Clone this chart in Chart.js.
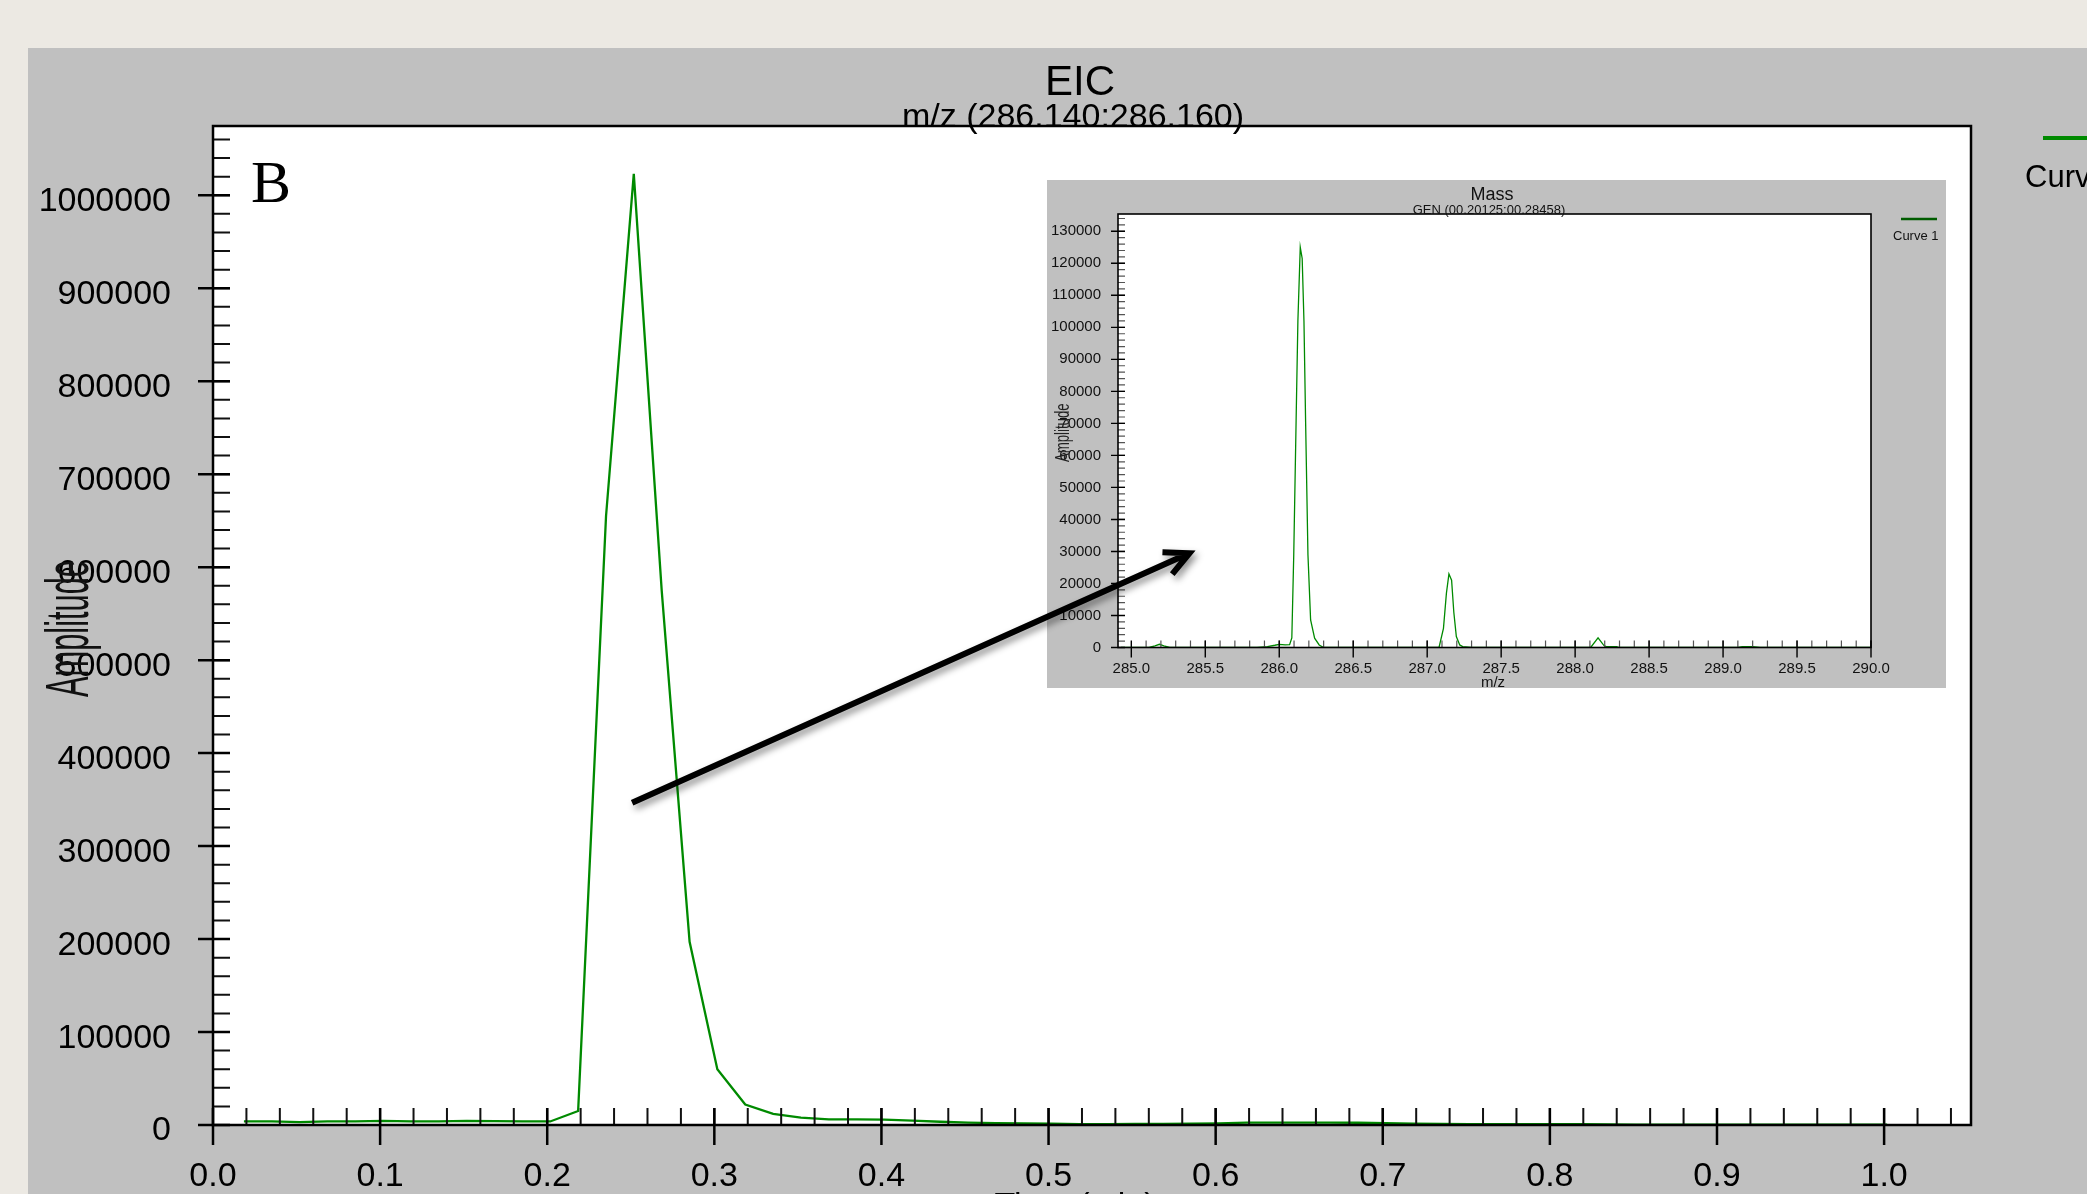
<!DOCTYPE html>
<html>
<head>
<meta charset="utf-8">
<title>EIC m/z (286.140:286.160)</title>
<script src="https://cdn.jsdelivr.net/npm/chart.js@4.4.1/dist/chart.umd.min.js"></script>
<style>
    html, body { margin: 0; padding: 0; width: 2087px; height: 1194px; overflow: hidden; background: #ece9e3; }
    #panel { position: absolute; left: 28px; top: 48px; right: 0; bottom: 0; background: #c0c0c0; }
    #eicChart, #arrowLayer { position: absolute; left: 28px; top: 48px; }
    #eicChart { z-index: 1; }
    #massChart { position: absolute; left: 1047px; top: 180px; z-index: 2; background: #c0c0c0; }
    #arrowLayer { z-index: 3; pointer-events: none; }
</style>
</head>
<body>
<div id="panel"></div>
<canvas id="eicChart" width="2059" height="1177"></canvas>
<canvas id="massChart" width="899" height="508"></canvas>
<canvas id="arrowLayer" width="2059" height="1177"></canvas>
<script>
// EIC trace (time in min, amplitude)
var eicTimes = [0.0185, 0.0352, 0.0518, 0.0685, 0.0852, 0.1018, 0.1185, 0.1352, 0.1518, 0.1685,
                0.1852, 0.2018, 0.2185, 0.2352, 0.2518, 0.2685, 0.2852, 0.3018, 0.3185, 0.3352,
                0.3518, 0.3685, 0.3852, 0.4018, 0.4185, 0.4352, 0.4518, 0.4685, 0.4852, 0.5018,
                0.5185, 0.5352, 0.5518, 0.5685, 0.5852, 0.6018, 0.6185, 0.6352, 0.6518, 0.6685,
                0.6852, 0.7018, 0.7185, 0.7352, 0.7518, 0.7685, 0.7852, 0.8018, 0.8185, 0.8352,
                0.8518, 0.8685, 0.8852, 0.9018, 0.9185, 0.9352, 0.9518, 0.9685, 0.9852, 1.0018];
var eicAmplitudes = [4000, 4000, 3000, 4000, 4000, 4500, 4000, 4000, 4500, 4200,
                     4000, 3800, 15000, 655000, 1023000, 575000, 197000, 60000, 22000, 12000,
                     8000, 6000, 6000, 5800, 4800, 3500, 2500, 2000, 1700, 1500,
                     1000, 1000, 1200, 1300, 1500, 1800, 2500, 2500, 2600, 2500,
                     2400, 2000, 1500, 1200, 1000, 1000, 900, 1000, 800, 600,
                     500, 500, 500, 500, 500, 500, 500, 500, 500, 500];
var timeTicks = [0.0, 0.1, 0.2, 0.3, 0.4, 0.5, 0.6, 0.7, 0.8, 0.9, 1.0];
var amplitudeTicks = [0, 100000, 200000, 300000, 400000, 500000, 600000, 700000, 800000, 900000, 1000000];

// inset mass spectrum (m/z, amplitude)
var massMz = [284.93, 285.12, 285.16, 285.19, 285.22, 285.26, 285.85, 285.92, 285.97, 286.00,
              286.04, 286.07, 286.085, 286.098, 286.114, 286.126, 286.142, 286.155, 286.167, 286.178,
              286.194, 286.212, 286.239, 286.27, 286.30, 287.08, 287.11, 287.13, 287.147, 287.165,
              287.18, 287.197, 287.22, 287.24, 287.30, 288.105, 288.155, 288.195, 288.21, 288.28,
              288.30, 289.10, 289.13, 289.20, 289.25, 290.0];
var massAmplitudes = [0, 0, 500, 1000, 500, 0, 0, 300, 700, 1000,
                      800, 900, 3000, 29000, 71000, 102000, 125000, 121500, 102000, 71000,
                      29000, 8600, 2900, 800, 0, 0, 6000, 17000, 23000, 21000,
                      11000, 3400, 800, 300, 0, 0, 3000, 600, 300, 300,
                      0, 0, 250, 250, 0, 0];
var mzTicks = [285.0, 285.5, 286.0, 286.5, 287.0, 287.5, 288.0, 288.5, 289.0, 289.5, 290.0];
var massAmpTicks = [0, 10000, 20000, 30000, 40000, 50000, 60000, 70000,
                    80000, 90000, 100000, 110000, 120000, 130000];

// arrow from the EIC apex towards the inset (time, amplitude)
var arrowFrom = [0.2508, 346500];
var arrowTo = [0.5843, 615000];

var FONT = "'Liberation Sans', Arial, sans-serif";
var GREEN = '#008a00';

Chart.defaults.font.family = FONT;
Chart.defaults.color = '#000';

function toPoints(xs, ys) {
    var pts = [];
    for (var i = 0; i < xs.length; i++) {
        pts.push({ x: xs[i], y: ys[i] });
    }
    return pts;
}

function fixedTicks(values) {
    return function(scale) {
        scale.ticks = values.map(function(v) { return { value: v }; });
    };
}

function fillArea(chart) {
    var a = chart.chartArea;
    chart.ctx.save();
    chart.ctx.fillStyle = '#fff';
    chart.ctx.fillRect(a.left, a.top, a.right - a.left, a.bottom - a.top);
    chart.ctx.restore();
}

function drawAxisTicks(chart, opt) {
    var ctx = chart.ctx;
    var area = chart.chartArea;
    var xs = chart.scales.x;
    var ys = chart.scales.y;
    var k, v, p;
    ctx.save();
    ctx.strokeStyle = opt.minorColor;
    ctx.lineWidth = opt.minorWidth;
    ctx.beginPath();
    for (k = 1; (v = k * opt.yMinor) < ys.max; k++) {
        p = ys.getPixelForValue(v);
        ctx.moveTo(area.left, p);
        ctx.lineTo(area.left + opt.inLen, p);
    }
    for (k = 1; (v = opt.xStart + k * opt.xMinor) < opt.xEnd + 1e-9; k++) {
        p = xs.getPixelForValue(v);
        ctx.moveTo(p, area.bottom);
        ctx.lineTo(p, area.bottom - opt.inLen);
    }
    ctx.stroke();

    ctx.strokeStyle = '#000';
    ctx.lineWidth = opt.majorWidth;
    ctx.beginPath();
    ys.ticks.forEach(function(t) {
        p = ys.getPixelForValue(t.value);
        ctx.moveTo(area.left - opt.yOut, p);
        ctx.lineTo(area.left + opt.inLen, p);
    });
    xs.ticks.forEach(function(t) {
        p = xs.getPixelForValue(t.value);
        ctx.moveTo(p, area.bottom + opt.xOut);
        ctx.lineTo(p, area.bottom - opt.inLen);
    });
    ctx.stroke();

    ctx.lineWidth = opt.frameWidth;
    ctx.strokeRect(area.left, area.top, area.right - area.left, area.bottom - area.top);
    ctx.restore();
}

function drawSquashedText(ctx, text, x, y, font, squash) {
    ctx.save();
    ctx.translate(x, y);
    ctx.rotate(-Math.PI / 2);
    ctx.scale(squash, 1);
    ctx.font = font;
    ctx.textAlign = 'center';
    ctx.textBaseline = 'alphabetic';
    ctx.fillText(text, 0, 0);
    ctx.restore();
}

var eicDecor = {
    id: 'eicDecor',
    beforeDraw: fillArea,
    afterDraw: function(chart) {
        var ctx = chart.ctx;
        var a = chart.chartArea;
        var ds = chart.data.datasets[0];
        drawAxisTicks(chart, {
            yMinor: 20000, xStart: 0, xMinor: 0.02, xEnd: 1.04,
            inLen: 17, yOut: 15, xOut: 20,
            minorColor: '#111', minorWidth: 2, majorWidth: 2.5, frameWidth: 2.5
        });

        ctx.save();
        ctx.fillStyle = '#000';
        ctx.textAlign = 'center';
        ctx.textBaseline = 'alphabetic';
        ctx.font = '42px ' + FONT;
        ctx.fillText('EIC', 1052, 47);
        ctx.font = '34px ' + FONT;
        ctx.fillText('m/z (286.140:286.160)', 1045, 79);

        ctx.textAlign = 'left';
        ctx.font = "60px 'Liberation Serif', 'Times New Roman', serif";
        ctx.fillText('B', 223, 154);

        ctx.textAlign = 'center';
        ctx.textBaseline = 'middle';
        ctx.font = '34px ' + FONT;
        ctx.fillText('Time (min)', 1047, 1159);

        // legend at the right edge
        ctx.strokeStyle = ds.borderColor;
        ctx.lineWidth = 4;
        ctx.beginPath();
        ctx.moveTo(2015, 90);
        ctx.lineTo(2070, 90);
        ctx.stroke();
        ctx.textAlign = 'left';
        ctx.font = '31px ' + FONT;
        ctx.fillText(ds.label, 1997, 130);
        ctx.restore();

        ctx.fillStyle = '#111';
        drawSquashedText(ctx, 'Amplitude', 60, (a.top + a.bottom) / 2 + 3, '61px ' + FONT, 0.505);

        drawArrow(chart);
    }
};

function drawArrow(chart) {
    var layer = document.getElementById('arrowLayer');
    var ctx = layer.getContext('2d');
    var xs = chart.scales.x;
    var ys = chart.scales.y;
    var x1 = xs.getPixelForValue(arrowFrom[0]);
    var y1 = ys.getPixelForValue(arrowFrom[1]);
    var x2 = xs.getPixelForValue(arrowTo[0]);
    var y2 = ys.getPixelForValue(arrowTo[1]);
    var ang = Math.atan2(y1 - y2, x1 - x2);
    var wing = 27;
    var spread = 0.46;

    ctx.clearRect(0, 0, layer.width, layer.height);
    ctx.save();
    ctx.shadowColor = 'rgba(0, 0, 0, 0.45)';
    ctx.shadowBlur = 7;
    ctx.shadowOffsetX = 3;
    ctx.shadowOffsetY = 4;
    ctx.strokeStyle = '#000';
    ctx.lineWidth = 6;
    ctx.lineCap = 'butt';
    ctx.lineJoin = 'miter';
    ctx.beginPath();
    ctx.moveTo(x1, y1);
    ctx.lineTo(x2 + Math.cos(ang) * 4, y2 + Math.sin(ang) * 4);
    ctx.moveTo(x2 + Math.cos(ang + spread) * wing, y2 + Math.sin(ang + spread) * wing);
    ctx.lineTo(x2, y2);
    ctx.lineTo(x2 + Math.cos(ang - spread) * wing, y2 + Math.sin(ang - spread) * wing);
    ctx.stroke();
    ctx.restore();
}

var massDecor = {
    id: 'massDecor',
    beforeDraw: fillArea,
    afterDraw: function(chart) {
        var ctx = chart.ctx;
        var a = chart.chartArea;
        var ds = chart.data.datasets[0];
        drawAxisTicks(chart, {
            yMinor: 2000, xStart: 285.0, xMinor: 0.1, xEnd: 290.0,
            inLen: 7, yOut: 7, xOut: 10,
            minorColor: '#555', minorWidth: 1.2, majorWidth: 1.4, frameWidth: 1.6
        });

        ctx.save();
        ctx.fillStyle = '#111';
        ctx.textAlign = 'center';
        ctx.textBaseline = 'alphabetic';
        ctx.font = '18px ' + FONT;
        ctx.fillText('Mass', 445, 20);
        ctx.font = '13px ' + FONT;
        ctx.fillText('GEN (00.20125:00.28458)', 442, 34);
        ctx.font = '15px ' + FONT;
        ctx.fillText('m/z', 446, 507);

        ctx.strokeStyle = '#005c00';
        ctx.lineWidth = 2.5;
        ctx.beginPath();
        ctx.moveTo(854, 39);
        ctx.lineTo(890, 39);
        ctx.stroke();
        ctx.textAlign = 'left';
        ctx.textBaseline = 'middle';
        ctx.font = '13px ' + FONT;
        ctx.fillText(ds.label, 846, 56);
        ctx.restore();

        ctx.fillStyle = '#222';
        drawSquashedText(ctx, 'Amplitude', 21.5, (a.top + a.bottom) / 2 + 2, '20px ' + FONT, 0.66);
    }
};

new Chart(document.getElementById('eicChart'), {
    type: 'line',
    data: {
        datasets: [{
            label: 'Curve 1',
            data: toPoints(eicTimes, eicAmplitudes),
            borderColor: GREEN,
            borderWidth: 2.3,
            pointRadius: 0,
            tension: 0,
            fill: false
        }]
    },
    options: {
        responsive: false,
        animation: false,
        devicePixelRatio: 1,
        layout: { padding: { left: 0, top: 78, right: 116, bottom: 0 } },
        plugins: {
            legend: { display: false },
            tooltip: { enabled: false }
        },
        scales: {
            x: {
                type: 'linear',
                min: 0,
                max: 1.052,
                afterBuildTicks: fixedTicks(timeTicks),
                afterFit: function(scale) { scale.height = 100; },
                grid: { display: false, drawTicks: false },
                border: { display: false },
                ticks: {
                    font: { size: 34 },
                    color: '#000',
                    padding: 31,
                    maxRotation: 0,
                    autoSkip: false,
                    callback: function(value) { return value.toFixed(1); }
                }
            },
            y: {
                type: 'linear',
                min: 0,
                max: 1074500,
                afterBuildTicks: fixedTicks(amplitudeTicks),
                afterFit: function(scale) { scale.width = 185; },
                grid: { display: false, drawTicks: false },
                border: { display: false },
                ticks: {
                    // two-line label with an empty first line nudges the number slightly below its tick
                    font: { size: 34, lineHeight: 0.36 },
                    color: '#000',
                    padding: 42,
                    autoSkip: false,
                    callback: function(value) { return ['', String(value)]; }
                }
            }
        }
    },
    plugins: [eicDecor]
});

new Chart(document.getElementById('massChart'), {
    type: 'line',
    data: {
        datasets: [{
            label: 'Curve 1',
            data: toPoints(massMz, massAmplitudes),
            borderColor: GREEN,
            borderWidth: 1.3,
            pointRadius: 0,
            tension: 0,
            fill: false
        }]
    },
    options: {
        responsive: false,
        animation: false,
        devicePixelRatio: 1,
        layout: { padding: { left: 0, top: 34, right: 75, bottom: 0 } },
        plugins: {
            legend: { display: false },
            tooltip: { enabled: false }
        },
        scales: {
            x: {
                type: 'linear',
                min: 284.91,
                max: 290.0,
                afterBuildTicks: fixedTicks(mzTicks),
                afterFit: function(scale) { scale.height = 40.5; },
                grid: { display: false, drawTicks: false },
                border: { display: false },
                ticks: {
                    font: { size: 15 },
                    color: '#111',
                    padding: 12,
                    maxRotation: 0,
                    autoSkip: false,
                    callback: function(value) { return value.toFixed(1); }
                }
            },
            y: {
                type: 'linear',
                min: 0,
                max: 135400,
                afterBuildTicks: fixedTicks(massAmpTicks),
                afterFit: function(scale) { scale.width = 71; },
                grid: { display: false, drawTicks: false },
                border: { display: false },
                ticks: {
                    font: { size: 15 },
                    color: '#111',
                    padding: 17,
                    autoSkip: false,
                    callback: function(value) { return String(value); }
                }
            }
        }
    },
    plugins: [massDecor]
});
</script>
</body>
</html>
